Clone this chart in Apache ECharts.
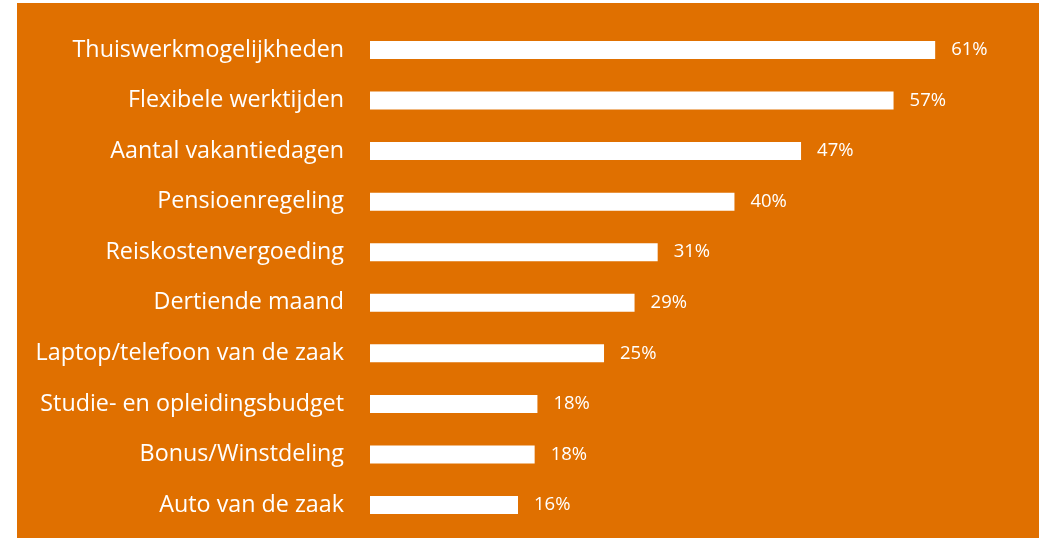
<!DOCTYPE html>
<html>
<head>
<meta charset="utf-8">
<script src="https://cdn.jsdelivr.net/npm/echarts@6/dist/echarts.min.js"></script>
<style>
html,body{margin:0;padding:0;background:#fff;}
#chart{width:1043px;height:538px;}
</style>
</head>
<body>
<div id="chart"></div>
<script>
const categories = [
  "Thuiswerkmogelijkheden",
  "Flexibele werktijden",
  "Aantal vakantiedagen",
  "Pensioenregeling",
  "Reiskostenvergoeding",
  "Dertiende maand",
  "Laptop/telefoon van de zaak",
  "Studie- en opleidingsbudget",
  "Bonus/Winstdeling",
  "Auto van de zaak"
];
const values = [61.1, 56.6, 46.6, 39.4, 31.1, 28.6, 25.3, 18.1, 17.8, 16.0];
const valueLabels = ["61%", "57%", "47%", "40%", "31%", "29%", "25%", "18%", "18%", "16%"];

const chart = echarts.init(document.getElementById('chart'), null, {renderer: 'canvas'});
const option = {
  backgroundColor: '#ffffff',
  animation: false,
  graphic: [{
    type: 'rect',
    z: -10,
    silent: true,
    shape: {x: 17, y: 3, width: 1022, height: 535},
    style: {fill: '#E07000'}
  }],
  grid: {left: 370, right: 25.5, top: 24.7, bottom: 7.7, containLabel: false},
  xAxis: {
    type: 'value', min: 0, max: 70,
    show: false
  },
  yAxis: {
    type: 'category',
    inverse: true,
    data: categories,
    axisLine: {show: false},
    axisTick: {show: false},
    splitLine: {show: false},
    axisLabel: {
      color: '#ffffff',
      fontFamily: 'Open Sans',
      fontSize: 23.3,
      margin: 26,
      padding: [6, 0, 0, 0]
    }
  },
  series: [{
    type: 'bar',
    data: values,
    barWidth: 18,
    itemStyle: {color: '#ffffff'},
    label: {
      show: true,
      position: 'right',
      distance: 16,
      color: '#ffffff',
      fontFamily: 'Open Sans',
      fontSize: 18.5,
      padding: [6, 0, 0, 0],
      formatter: p => valueLabels[p.dataIndex]
    }
  }]
};
chart.setOption(option);
</script>
</body>
</html>
